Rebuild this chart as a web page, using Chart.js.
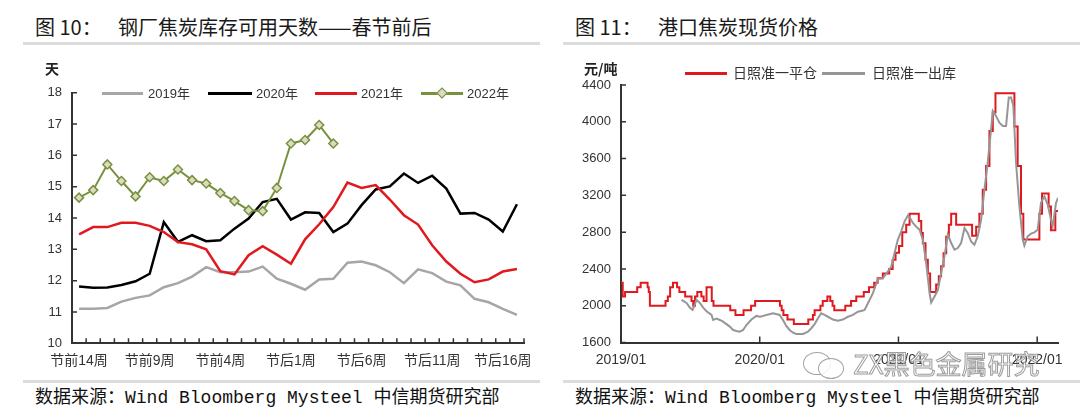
<!DOCTYPE html>
<html><head><meta charset="utf-8">
<script src="https://cdn.jsdelivr.net/npm/chart.js@4.4.0/dist/chart.umd.min.js"></script>
<style>
body{margin:0;width:1080px;height:413px;background:#fff;position:relative;overflow:hidden;font-family:"Liberation Sans","Noto Sans CJK SC",sans-serif;color:#222}
.abs{position:absolute;white-space:nowrap}
.title{font-family:"Noto Sans CJK SC",sans-serif;font-size:20px;line-height:20px;top:17px;color:#1a1a1a}
.sep{position:absolute;height:3px;background:#dcdcdc}
.src{font-family:"Liberation Mono","Noto Sans CJK SC",monospace;font-size:18px;line-height:18px;top:389px;color:#111}
.lg{font-size:13px;line-height:13px;color:#333}
.lg2{font-size:14px;line-height:14px;color:#333;font-family:"Noto Sans CJK SC",sans-serif}
.ln{position:absolute;height:2.5px}
.unit{font-family:"Noto Sans CJK SC",sans-serif;font-size:14px;line-height:14px;font-weight:700;color:#222}
canvas{position:absolute}
</style></head>
<body>
<div class="abs title" style="left:35px">图 10：</div>
<div class="abs title" style="left:118px">钢厂焦炭库存可用天数——春节前后</div>
<div class="abs title" style="left:575px">图 11：</div>
<div class="abs title" style="left:658px">港口焦炭现货价格</div>
<div class="sep" style="left:23px;top:42px;width:517px"></div>
<div class="sep" style="left:563px;top:42px;width:517px"></div>
<div class="sep" style="left:23px;top:380px;width:517px"></div>
<div class="sep" style="left:563px;top:380px;width:517px"></div>
<div class="abs src" style="left:35px">数据来源：Wind Bloomberg Mysteel 中信期货研究部</div>
<div class="abs src" style="left:575px">数据来源：Wind Bloomberg Mysteel 中信期货研究部</div>

<canvas id="c1" width="540" height="330" style="left:0;top:50px"></canvas>
<canvas id="c2" width="540" height="330" style="left:540px;top:50px"></canvas>

<div class="abs unit" style="left:45px;top:61px">天</div>
<div class="abs unit" style="left:584px;top:61px">元/吨</div>

<!-- left legend -->
<div class="ln" style="left:102px;top:92px;width:41px;background:#a6a6a6"></div>
<div class="abs lg" style="left:148px;top:87px">2019年</div>
<div class="ln" style="left:208px;top:92px;width:44px;background:#000"></div>
<div class="abs lg" style="left:256px;top:87px">2020年</div>
<div class="ln" style="left:315px;top:92px;width:42px;background:#e0191f"></div>
<div class="abs lg" style="left:361px;top:87px">2021年</div>
<div class="ln" style="left:421px;top:92px;width:42px;background:#76923c"></div>
<div class="abs" style="left:438px;top:89px;width:6px;height:6px;background:#ddd9c3;border:1.5px solid #76923c;transform:rotate(45deg)"></div>
<div class="abs lg" style="left:467px;top:87px">2022年</div>

<!-- right legend -->
<div class="ln" style="left:685px;top:72px;width:42px;background:#e0191f"></div>
<div class="abs lg2" style="left:733px;top:65px">日照准一平仓</div>
<div class="ln" style="left:822px;top:72px;width:43px;background:#969696"></div>
<div class="abs lg2" style="left:872px;top:65px">日照准一出库</div>

<!-- watermark -->
<div class="abs" style="left:803px;top:352px;width:26px;height:21px;border:1.5px solid rgba(140,140,140,0.8);border-radius:50%;background:rgba(255,255,255,0.85)"></div>
<div class="abs" style="left:818px;top:358px;width:24px;height:19px;border:1.5px solid rgba(140,140,140,0.8);border-radius:50%;background:rgba(255,255,255,0.85)"></div>
<div class="abs" style="left:853px;top:348px;font-family:'Noto Sans CJK SC',sans-serif;font-size:26px;line-height:30px;color:rgba(255,255,255,0.9);-webkit-text-stroke:1px rgba(140,140,140,0.85)">ZX黑色金属研究</div>

<script>
// ---------- Figure 10 data ----------
const weekLabels = ["节前14周","节前13周","节前12周","节前11周","节前10周","节前9周","节前8周","节前7周","节前6周","节前5周","节前4周","节前3周","节前2周","节前1周","春节当周","节后1周","节后2周","节后3周","节后4周","节后5周","节后6周","节后7周","节后8周","节后9周","节后10周","节后11周","节后12周","节后13周","节后14周","节后15周","节后16周","节后17周"];
const days2019 = [11.10,11.10,11.13,11.33,11.45,11.53,11.79,11.92,12.13,12.43,12.27,12.27,12.29,12.45,12.06,11.90,11.71,12.04,12.06,12.57,12.61,12.49,12.27,11.92,12.36,12.24,11.97,11.85,11.42,11.31,11.10,10.91];
const days2020 = [11.81,11.77,11.78,11.86,11.98,12.22,13.87,13.24,13.45,13.26,13.29,13.66,13.98,14.51,14.61,13.95,14.18,14.16,13.55,13.82,14.41,14.91,15.01,15.42,15.12,15.35,14.94,14.14,14.16,13.95,13.57,14.44];
const days2021 = [13.48,13.71,13.71,13.85,13.85,13.75,13.55,13.23,13.16,13.00,12.30,12.20,12.81,13.10,12.83,12.54,13.32,13.80,14.35,15.13,14.96,15.05,14.59,14.09,13.79,13.13,12.61,12.22,11.95,12.04,12.29,12.37];
const days2022 = [14.65,14.89,15.71,15.18,14.69,15.30,15.18,15.55,15.21,15.10,14.80,14.54,14.25,14.22,14.96,16.38,16.49,16.97,16.38];

// ---------- Figure 11 data (x = months since 2019/01) ----------
const pcMonths = [0,0.15,0.35,1.4,1.7,2.3,2.4,2.5,3.85,4.05,4.25,4.5,4.85,5.05,5.55,6.1,6.25,6.4,6.6,6.95,7.15,7.4,7.85,8.0,9.45,9.9,10.6,11.25,11.6,13.75,13.9,14.05,14.4,14.95,16.2,16.6,16.75,17.25,17.45,17.85,18.1,18.3,18.45,19.4,19.9,20.35,21.0,21.45,21.9,22.2,22.65,23.2,23.5,23.75,24.05,24.33,24.67,24.96,25.76,25.97,26.11,26.34,26.54,26.74,27.26,27.49,27.69,27.9,28.13,28.36,28.56,28.99,30.37,30.72,31.0,31.29,31.58,31.87,32.16,32.39,34.03,34.31,34.6,34.8,36.19,36.42,36.99,37.19,37.57,37.8];
const pcPrice = [2250,2100,2150,2200,2250,2200,2150,2000,2050,2100,2200,2250,2200,2150,2100,2050,2000,2100,2150,2100,2050,2200,2050,2000,1950,1900,1950,2000,2050,2000,1950,1900,1850,1800,1850,1900,1950,2000,2050,2100,2050,2000,1950,2000,2050,2100,2150,2200,2250,2300,2350,2400,2500,2575,2650,2800,2880,3000,2920,2790,2680,2500,2350,2150,2230,2320,2430,2570,2750,2880,3000,2880,2760,2860,3000,3260,3520,3900,4100,4310,3950,3520,3000,2720,3000,3220,3080,2820,3030,3030];
const ckMonths = [5.24,5.67,5.95,6.19,6.35,6.53,6.82,7.11,7.4,7.83,7.97,8.26,8.55,8.83,9.12,9.41,9.7,9.99,10.27,10.56,10.85,11.28,11.71,12.0,12.29,12.58,13.15,13.73,14.01,14.3,14.59,14.88,15.17,15.74,16.17,16.46,16.75,17.04,17.32,17.61,17.9,18.33,18.76,19.19,19.63,20.06,20.49,20.92,21.07,21.36,21.79,22.22,22.66,23.09,23.38,23.66,23.95,24.24,24.53,24.81,25.02,25.25,25.53,25.82,26.11,26.4,26.69,26.83,27.12,27.41,27.69,27.98,28.27,28.56,28.85,29.13,29.42,29.71,29.99,30.28,30.57,30.86,31.15,31.44,31.72,32.01,32.16,32.44,32.73,33.02,33.31,33.54,33.74,33.94,34.17,34.46,34.75,34.89,35.18,35.47,35.76,36.04,36.33,36.62,36.91,37.19,37.34,37.63,37.8];
const ckPrice = [2064,2030,1980,1955,2000,2064,2030,1980,1940,1900,1845,1860,1845,1827,1800,1773,1736,1725,1718,1736,1790,1850,1889,1880,1889,1900,1918,1900,1845,1780,1736,1707,1693,1693,1718,1755,1800,1864,1918,1900,1880,1850,1838,1850,1880,1900,1935,1947,1955,2027,2136,2289,2300,2373,2427,2573,2718,2809,2918,2980,2950,2900,2860,2827,2718,2464,2136,2035,2100,2173,2355,2536,2773,2682,2609,2627,2682,2845,2791,2700,2664,2755,2937,3264,3555,3918,4118,4064,3991,3955,3955,4264,4264,4173,3555,3082,2718,2653,2755,2784,2798,2827,3118,3191,3100,2937,2864,3118,3173];
const yearTickPos = [0,12,24,36];
const yearTickLabels = ["2019/01","2020/01","2021/01","2022/01"];

const AX = '#333333';
const tickFont = {family:'"Liberation Sans","Noto Sans CJK SC",sans-serif', size:13};
const xFont = {family:'"Liberation Sans","Noto Sans CJK SC",sans-serif', size:14};

const innerTicks = {
  id:'innerTicks',
  afterDraw(chart, args, o){
    const ctx = chart.ctx, a = chart.chartArea;
    ctx.save(); ctx.strokeStyle = AX; ctx.lineWidth = 1.5; ctx.beginPath();
    const ys = chart.scales.y;
    ys.ticks.forEach(t => { const p = ys.getPixelForValue(t.value); ctx.moveTo(a.left, p); ctx.lineTo(a.left + o.ylen, p); });
    const xs = chart.scales.x;
    if (o.between) {
      for (let i = 0; i <= xs.ticks.length; i++) { const p = xs.getPixelForValue(i - 0.5); ctx.moveTo(p, a.bottom); ctx.lineTo(p, a.bottom - o.xlen); }
    } else {
      xs.ticks.forEach(t => { const p = xs.getPixelForValue(t.value); ctx.moveTo(p, a.bottom); ctx.lineTo(p, a.bottom - o.xlen); });
    }
    ctx.stroke(); ctx.restore();
  }
};

new Chart(document.getElementById('c1'), {
  type:'line',
  data:{ labels: weekLabels, datasets:[
    {label:'2019年', data:days2019, borderColor:'#a6a6a6', borderWidth:2.5, pointRadius:0, order:3},
    {label:'2020年', data:days2020, borderColor:'#000000', borderWidth:2.5, pointRadius:0, order:2},
    {label:'2021年', data:days2021, borderColor:'#e0191f', borderWidth:2.5, pointRadius:0, order:1},
    {label:'2022年', data:days2022, borderColor:'#76923c', borderWidth:2, pointStyle:'rectRot', pointRadius:4.5, pointBackgroundColor:'#ddd9c3', pointBorderColor:'#76923c', pointBorderWidth:1.5, order:0}
  ]},
  options:{
    responsive:false, animation:false, devicePixelRatio:1,
    layout:{padding:{left:0,right:16,top:42.7,bottom:0}},
    plugins:{legend:{display:false}, tooltip:{enabled:false}, innerTicks:{ylen:5, xlen:5, between:true}},
    scales:{
      x:{ offset:true, grid:{display:false, drawTicks:false}, border:{display:true, color:AX, width:2},
          ticks:{autoSkip:false, maxRotation:0, minRotation:0, color:'#333', font:xFont, padding:9,
                 callback:(v,i)=> i%5===0 ? weekLabels[i] : ''},
          afterFit:s=>{s.height=36.7;} },
      y:{ min:10, max:18, grid:{display:false, drawTicks:false}, border:{display:true, color:AX, width:2},
          ticks:{stepSize:1, color:'#333', font:tickFont, padding:10, callback:v=>String(v)},
          afterFit:s=>{s.width=72;} }
    }
  },
  plugins:[innerTicks]
});

new Chart(document.getElementById('c2'), {
  type:'line',
  data:{ datasets:[
    {label:'日照准一平仓', data:pcMonths.map((m,i)=>({x:m,y:pcPrice[i]})), borderColor:'#e0191f', borderWidth:2, pointRadius:0, stepped:true, order:1},
    {label:'日照准一出库', data:ckMonths.map((m,i)=>({x:m,y:ckPrice[i]})), borderColor:'#969696', borderWidth:2, pointRadius:0, order:0}
  ]},
  options:{
    responsive:false, animation:false, devicePixelRatio:1,
    layout:{padding:{left:0,right:22,top:35,bottom:0}},
    plugins:{legend:{display:false}, tooltip:{enabled:false}, innerTicks:{ylen:5, xlen:6, between:false}},
    scales:{
      x:{ type:'linear', min:0, max:37.8, grid:{display:false, drawTicks:false}, border:{display:true, color:AX, width:2},
          afterBuildTicks:s=>{ s.ticks = yearTickPos.map(v=>({value:v})); },
          ticks:{autoSkip:false, maxRotation:0, color:'#333', font:xFont, padding:9,
                 callback:(v)=>{ const k = yearTickPos.indexOf(v); return k>=0 ? yearTickLabels[k] : ''; }},
          afterFit:s=>{s.height=37.5;} },
      y:{ min:1600, max:4400, grid:{display:false, drawTicks:false}, border:{display:true, color:AX, width:2},
          ticks:{stepSize:400, color:'#333', font:tickFont, padding:10, callback:v=>String(v)},
          afterFit:s=>{s.width=81;} }
    }
  },
  plugins:[innerTicks]
});
</script>
</body></html>
